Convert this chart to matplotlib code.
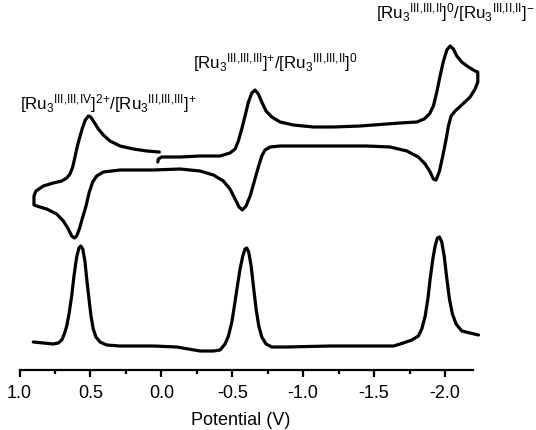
import matplotlib
matplotlib.use("Agg")
import matplotlib.pyplot as plt
import numpy as np

plt.rcParams['font.family'] = ['Liberation Sans', 'DejaVu Sans']
plt.rcParams['mathtext.fontset'] = 'custom'
plt.rcParams['mathtext.rm'] = 'Liberation Sans'
plt.rcParams['mathtext.it'] = 'Liberation Sans:italic'
plt.rcParams['mathtext.bf'] = 'Liberation Sans:bold'

# Cyclic voltammogram (potential in V, current in arbitrary units)
cv_potential = [0.025, 0.021, -0.003, -0.132, -0.273, -0.414, -0.484, -0.520, -0.543, -0.567,
                -0.590, -0.614, -0.638, -0.661, -0.684, -0.708, -0.738, -0.779, -0.837, -0.931,
                -1.072, -1.213, -1.401, -1.495, -1.683, -1.801, -1.853, -1.890, -1.918, -1.942,
                -1.965, -1.989, -2.013, -2.036, -2.059, -2.083, -2.118, -2.165, -2.212, -2.231,
                -2.231, -2.212, -2.177, -2.118, -2.071, -2.043, -2.024, -2.008, -1.984, -1.961,
                -1.937, -1.918, -1.895, -1.860, -1.812, -1.731, -1.613, -1.448, -1.260, -0.837,
                -0.767, -0.731, -0.708, -0.684, -0.654, -0.626, -0.597, -0.571, -0.548, -0.520,
                -0.484, -0.437, -0.367, -0.273, -0.132, 0.056, 0.291, 0.409, 0.456, 0.484,
                0.508, 0.531, 0.554, 0.578, 0.597, 0.614, 0.632, 0.656, 0.691, 0.738,
                0.808, 0.879, 0.898, 0.898, 0.884, 0.832, 0.762, 0.702, 0.667, 0.644,
                0.625, 0.609, 0.592, 0.573, 0.554, 0.536, 0.515, 0.498, 0.475, 0.444,
                0.409, 0.362, 0.291, 0.197, 0.103, 0.014]
cv_current = [20.8, 21.1, 21.3, 21.3, 21.4, 21.4, 21.7, 22.1, 22.9, 24.1,
              25.4, 26.8, 27.7, 28.0, 27.6, 26.8, 25.9, 25.3, 24.8, 24.5,
              24.3, 24.3, 24.4, 24.5, 24.7, 24.8, 25.1, 25.6, 26.4, 27.8,
              29.4, 30.9, 32.0, 32.4, 32.1, 31.4, 30.8, 30.3, 29.9, 29.8,
              28.8, 28.1, 27.3, 26.5, 25.9, 25.4, 24.4, 23.1, 21.4, 19.9,
              19.0, 19.1, 19.8, 20.6, 21.3, 21.9, 22.3, 22.4, 22.4, 22.4,
              22.3, 22.0, 21.4, 20.3, 18.8, 17.4, 16.4, 16.0, 16.3, 17.1,
              18.1, 18.9, 19.5, 19.9, 20.1, 20.0, 20.0, 19.8, 19.4, 18.8,
              17.8, 16.4, 15.3, 14.1, 13.4, 13.2, 13.4, 14.1, 14.9, 15.6,
              16.1, 16.4, 16.5, 17.4, 17.9, 18.4, 18.7, 18.9, 19.2, 19.6,
              20.3, 21.3, 22.4, 23.4, 24.3, 25.0, 25.4, 25.3, 24.8, 24.1,
              23.5, 22.9, 22.4, 22.1, 21.9, 21.8]

# Differential pulse voltammogram
dpv_potential = [0.903, 0.832, 0.762, 0.727, 0.702, 0.684, 0.667, 0.651, 0.632, 0.616,
                 0.597, 0.581, 0.568, 0.554, 0.538, 0.526, 0.510, 0.496, 0.480, 0.461,
                 0.432, 0.385, 0.291, 0.056, -0.109, -0.273, -0.367, -0.414, -0.449, -0.473,
                 -0.497, -0.515, -0.536, -0.555, -0.574, -0.590, -0.602, -0.616, -0.633, -0.649,
                 -0.668, -0.687, -0.708, -0.738, -0.778, -0.884, -1.190, -1.402, -1.638, -1.706,
                 -1.766, -1.812, -1.836, -1.860, -1.879, -1.895, -1.914, -1.930, -1.946, -1.961,
                 -1.977, -1.994, -2.013, -2.031, -2.052, -2.078, -2.118, -2.177, -2.236]
dpv_current = [2.8, 2.7, 2.6, 2.7, 3.0, 3.6, 4.4, 5.6, 7.4, 9.4,
               11.3, 12.2, 12.4, 12.1, 10.8, 9.1, 7.1, 5.4, 4.1, 3.3,
               2.8, 2.5, 2.4, 2.4, 2.3, 1.9, 1.9, 2.0, 2.6, 3.4,
               4.8, 6.4, 8.4, 10.1, 11.4, 12.1, 12.2, 11.8, 10.4, 8.4,
               6.1, 4.4, 3.3, 2.6, 2.3, 2.3, 2.4, 2.4, 2.4, 2.7,
               3.0, 3.4, 4.1, 5.4, 7.1, 9.1, 11.1, 12.4, 13.2, 13.3,
               12.8, 11.4, 9.1, 7.1, 5.6, 4.6, 3.9, 3.7, 3.5]

xticks = [1.0, 0.5, 0.0, -0.5, -1.0, -1.5, -2.0]
xtick_labels = ['1.0', '0.5', '0.0', '-0.5', '-1.0', '-1.5', '-2.0']
couple_labels = [
    r'$[\mathrm{Ru}_3{}^{\mathrm{III{,}III{,}IV}}]^{2{+}}{/}[\mathrm{Ru}_3{}^{\mathrm{III{,}III{,}III}}]^{{+}}$',
    r'$[\mathrm{Ru}_3{}^{\mathrm{III{,}III{,}III}}]^{{+}}{/}[\mathrm{Ru}_3{}^{\mathrm{III{,}III{,}II}}]^{0}$',
    r'$[\mathrm{Ru}_3{}^{\mathrm{III{,}III{,}II}}]^{0}{/}[\mathrm{Ru}_3{}^{\mathrm{III{,}II{,}II}}]^{{-}}$',
]

W, H = 536, 431
fig = plt.figure(figsize=(W / 100, H / 100), dpi=100)
ax = fig.add_axes([19.5 / W, (H - 371) / H, (473.4 - 19.5) / W, 371 / H])

ax.plot(cv_potential, cv_current, color='black', lw=2.3,
        solid_joinstyle='round', solid_capstyle='round', clip_on=False)
ax.plot(dpv_potential, dpv_current, color='black', lw=2.3,
        solid_joinstyle='round', solid_capstyle='round', clip_on=False)

ax.set_xlim(1.0, -2.2)
ax.set_ylim(0, 37.1)
for s in ['top', 'left', 'right']:
    ax.spines[s].set_visible(False)
ax.spines['bottom'].set_linewidth(1.6)
ax.set_yticks([])
ax.set_xticks(xticks)
ax.set_xticklabels(xtick_labels)
ax.set_xticks(np.arange(0.75, -2.2, -0.5), minor=True)
ax.tick_params(axis='x', which='major', length=5, width=1.6, direction='out', labelsize=13, pad=5)
ax.tick_params(axis='x', which='minor', length=3, width=1.6, direction='out')
ax.set_xlabel('Potential (V)', fontsize=13)
ax.xaxis.set_label_coords((241 - 19.5) / (473.4 - 19.5), (371 - 412.5) / 371)

fig.text(20 / W, (H - 109) / H, couple_labels[0], fontsize=12.2, ha='left', va='baseline')
fig.text(193 / W, (H - 68) / H, couple_labels[1], fontsize=12.2, ha='left', va='baseline')
fig.text(535 / W, (H - 18) / H, couple_labels[2], fontsize=12.2, ha='right', va='baseline')

fig.savefig('out.png', dpi=100)
